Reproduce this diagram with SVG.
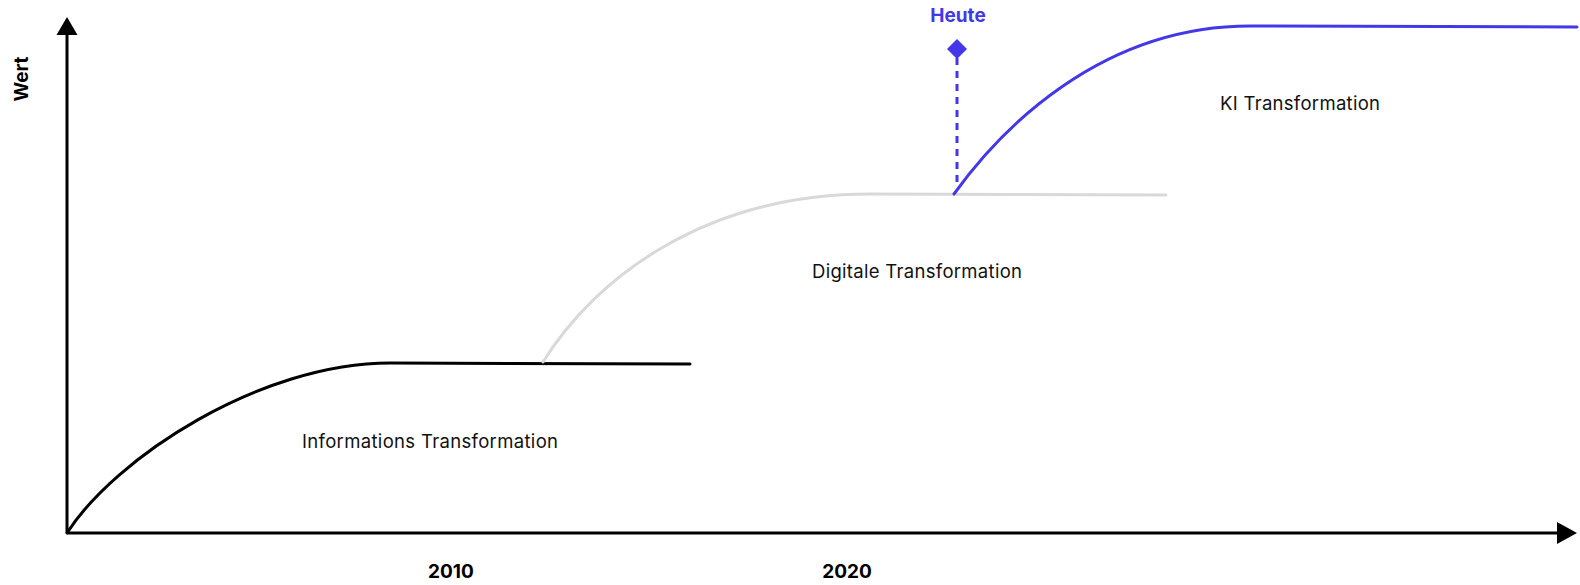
<svg xmlns="http://www.w3.org/2000/svg" width="1580" height="585" viewBox="0 0 1580 585">
  <style>
    .curve { fill: none; stroke-width: 3; stroke-linecap: round; stroke-linejoin: round; }
    .label { font-family: Inter, "Liberation Sans", sans-serif; font-size: 18.5px; fill: #111; }
    .bold { font-family: Inter, "Liberation Sans", sans-serif; font-size: 19px; font-weight: 700; fill: #000; }
    .accent { fill: #4437E8; }
  </style>
  <rect width="1580" height="585" fill="#fff"/>

  <g id="axes">
    <line x1="67" y1="533" x2="67" y2="32" stroke="#000" stroke-width="3"/>
    <polygon points="67,17 56.5,35 77.5,35" fill="#000"/>
    <line x1="67" y1="533" x2="1560" y2="533" stroke="#000" stroke-width="3"/>
    <polygon points="1577,533 1557,522 1557,544" fill="#000"/>
    <text class="bold" transform="translate(28,79) rotate(-90)" text-anchor="middle">Wert</text>
    <text class="bold" x="451" y="578" text-anchor="middle">2010</text>
    <text class="bold" x="847" y="578" text-anchor="middle">2020</text>
  </g>

  <g id="connectors">
    <path id="info-curve" class="curve" stroke="#000" d="M67,533 C115,458 260,363 390,363 L690,364"/>
    <path id="digital-curve" class="curve" stroke="#d9d9d9" d="M543,362 C595,278 705,194 870,194 L1166,195"/>
    <path id="ki-curve" class="curve" stroke="#4437E8" d="M954,194 C1000,130 1100,26 1250,26 L1577,27"/>
    <line id="heute-line" x1="957" y1="58" x2="957" y2="186" stroke="#4437E8" stroke-width="3" stroke-dasharray="7 6"/>
  </g>

  <g id="node-info">
    <text class="label" x="302" y="448" textLength="256" lengthAdjust="spacing">Informations Transformation</text>
  </g>
  <g id="node-digital">
    <text class="label" x="812" y="278" textLength="210" lengthAdjust="spacing">Digitale Transformation</text>
  </g>
  <g id="node-ki">
    <text class="label" x="1220" y="110" textLength="160" lengthAdjust="spacing">KI Transformation</text>
  </g>
  <g id="node-heute">
    <polygon class="accent" points="957,39 967,49 957,59 947,49"/>
    <text class="bold accent" x="958" y="22" text-anchor="middle">Heute</text>
  </g>
</svg>
